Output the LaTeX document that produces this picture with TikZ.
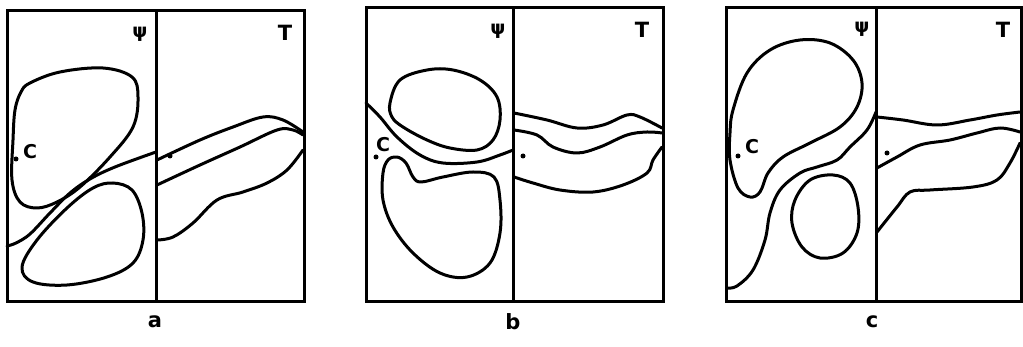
\documentclass[tikz,border=0pt]{standalone}
\usepackage{fontspec}
\setmainfont{DejaVu Sans}
\begin{document}
\begin{tikzpicture}[x=1pt,y=-1pt,
  frame/.style={line width=3pt},
  curve/.style={line width=3pt,line join=round,line cap=round},
  lbl/.style={font=\fontsize{21}{21}\selectfont\bfseries,inner sep=0},
  psil/.style={font=\fontsize{19}{19}\selectfont\bfseries,inner sep=0},
  cl/.style={font=\fontsize{19}{19}\selectfont\bfseries,inner sep=0},
  pt/.style={circle,fill=black,inner sep=0,minimum size=5pt}]
\useasboundingbox (0,0) rectangle (1023,347);
% ---------- panel a ----------
\draw[frame] (7,11) rectangle (304,302);
\draw[frame] (156,11) -- (156,302);
\node[psil] (pa) at (140,34) {ψ};
\node[lbl] (ta) at (285,33) {T};
\draw[curve] plot[smooth cycle,tension=0.6] coordinates {(30,83) (60,72) (103,68) (132,77) (138,97) (133,127) (110,157) (80,187) (57,202) (37,208) (20,202) (12,180) (13,140) (15,110) (21,92)};
\draw[curve] plot[smooth,tension=0.6] coordinates {(7,246) (16,243) (30,234) (50,213) (70,193) (90,179) (115,167) (156,152)};
\draw[curve] plot[smooth cycle,tension=0.6] coordinates {(22,267) (37,240) (67,208) (93,188) (113,183) (132,190) (142,213) (143,240) (133,263) (107,277) (67,285) (33,282)};
\node[cl] (ca) at (30,152) {C};
\node[pt] (da) at (16,159) {};
\draw[curve] plot[smooth,tension=0.6] coordinates {(157,160) (200,140) (233,127) (263,117) (283,120) (303,132)};
\draw[curve] plot[smooth,tension=0.6] coordinates {(157,185) (200,165) (240,147) (277,130) (293,130) (303,135)};
\draw[curve] plot[smooth,tension=0.6] coordinates {(303,150) (287,170) (267,183) (243,192) (217,200) (193,223) (173,237) (157,240)};
\node[pt] (ea) at (170,156) {};
\node[lbl] (la) at (155,322) {a};
% ---------- panel b ----------
\draw[frame] (366,8) rectangle (663,302);
\draw[frame] (513,8) -- (513,302);
\node[psil] (pb) at (498,31) {ψ};
\node[lbl] (tb) at (642,30) {T};
\draw[curve] plot[smooth cycle,tension=0.6] coordinates {(390,103) (400,80) (427,70) (453,70) (480,80) (497,97) (500,120) (493,140) (477,150) (450,148) (427,140) (403,127) (392,117)};
\draw[curve] plot[smooth,tension=0.6] coordinates {(366,103) (380,117) (397,137) (420,155) (443,163) (477,162) (500,155) (513,150)};
\draw[curve] plot[smooth cycle,tension=0.6] coordinates {(388,160) (397,157) (406,163) (413,177) (421,182) (443,177) (473,172) (494,177) (500,200) (500,233) (490,263) (467,277) (440,273) (413,253) (393,227) (383,200) (383,173)};
\node[cl] (cb) at (383,145) {C};
\node[pt] (db) at (376,157) {};
\draw[curve] plot[smooth,tension=0.6] coordinates {(514,113) (547,120) (577,128) (603,125) (627,115) (640,117) (662,128)};
\draw[curve] plot[smooth,tension=0.6] coordinates {(514,130) (537,135) (553,147) (577,153) (600,147) (627,135) (647,132) (662,133)};
\draw[curve] plot[smooth,tension=0.6] coordinates {(662,147) (653,160) (647,173) (623,185) (593,192) (560,190) (533,183) (514,177)};
\node[pt] (eb) at (523,156) {};
\node[lbl] (lb) at (513,322) {b};
% ---------- panel c ----------
\draw[frame] (726,8) rectangle (1021,302);
\draw[frame] (876,8) -- (876,302);
\node[psil] (pc) at (862,29) {ψ};
\node[lbl] (tc) at (1003,30) {T};
\draw[curve] plot[smooth cycle,tension=0.6] coordinates {(733,110) (747,73) (770,50) (800,40) (830,43) (853,60) (862,83) (857,107) (840,127) (810,143) (783,157) (768,173) (760,192) (750,197) (738,188) (730,160) (730,133)};
\node[cl] (cc) at (752,147) {C};
\node[pt] (dc) at (738,156) {};
\draw[curve] plot[smooth,tension=0.6] coordinates {(876,112) (867,130) (850,147) (837,160) (817,167) (800,173) (780,190) (770,213) (765,240) (753,270) (737,286) (727,288)};
\draw[curve] plot[smooth cycle,tension=0.6] coordinates {(810,180) (833,175) (850,183) (858,207) (857,233) (843,253) (820,258) (802,247) (792,223) (795,200)};
\draw[curve] plot[smooth,tension=0.6] coordinates {(877,117) (903,120) (937,125) (970,120) (997,115) (1020,112)};
\draw[curve] plot[smooth,tension=0.6] coordinates {(877,168) (897,157) (920,145) (950,140) (977,133) (1000,128) (1020,132)};
\draw[curve] plot[smooth,tension=0.6] coordinates {(1020,143) (1010,163) (997,180) (973,187) (930,190) (910,192) (897,207) (877,232)};
\node[pt] (ec) at (887,153) {};
\node[lbl] (lc) at (872,322) {c};
\end{tikzpicture}
\end{document}
